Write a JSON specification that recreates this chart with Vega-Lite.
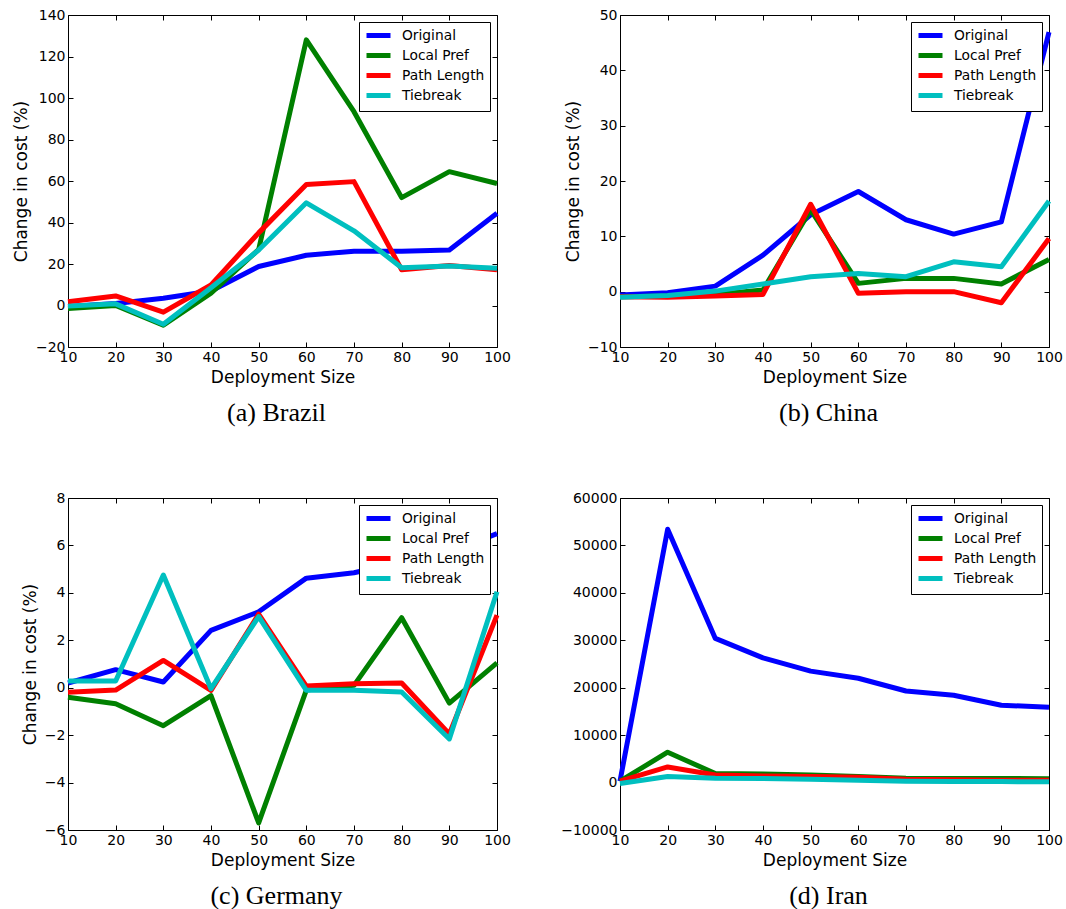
{
  "$schema": "https://vega.github.io/schema/vega-lite/v6.json",
  "padding": {"left": 11, "top": 7, "right": 5, "bottom": 5},
  "background": "white",
  "config": {
    "font": "DejaVu Sans",
    "view": {"stroke": "black", "strokeWidth": 1},
    "axis": {
      "domain": false,
      "grid": false,
      "ticks": true,
      "tickColor": "black",
      "tickSize": -5,
      "labelFont": "DejaVu Sans",
      "labelFontSize": 14,
      "labelColor": "black",
      "labelPadding": 8,
      "labelFlush": false,
      "labelOverlap": false,
      "titleFont": "DejaVu Sans",
      "titleFontSize": 17,
      "titleFontWeight": "normal",
      "titleColor": "black",
      "titlePadding": 5
    },
    "legend": {
      "orient": "top-right",
      "offset": 7,
      "title": null,
      "strokeColor": "black",
      "fillColor": "white",
      "padding": 5,
      "symbolType": "M-1,0H3",
      "symbolSize": 144,
      "symbolStrokeWidth": 5,
      "labelFont": "DejaVu Sans",
      "labelFontSize": 13.8,
      "labelColor": "black",
      "labelOffset": 21,
      "rowPadding": -1,
      "cornerRadius": 0
    },
    "title": {
      "orient": "bottom",
      "font": "Liberation Serif",
      "fontSize": 26,
      "fontWeight": "normal",
      "color": "black",
      "anchor": "middle",
      "dx": -6,
      "offset": 15
    }
  },
  "data": {
    "values": [
      {"country": "Brazil", "strategy": "Original", "size": 10, "value": -0.5},
      {"country": "Brazil", "strategy": "Original", "size": 20, "value": 1},
      {"country": "Brazil", "strategy": "Original", "size": 30, "value": 3.5},
      {"country": "Brazil", "strategy": "Original", "size": 40, "value": 7},
      {"country": "Brazil", "strategy": "Original", "size": 50, "value": 18.8},
      {"country": "Brazil", "strategy": "Original", "size": 60, "value": 24.2},
      {"country": "Brazil", "strategy": "Original", "size": 70, "value": 26.2},
      {"country": "Brazil", "strategy": "Original", "size": 80, "value": 26.2},
      {"country": "Brazil", "strategy": "Original", "size": 90, "value": 26.7},
      {"country": "Brazil", "strategy": "Original", "size": 100, "value": 44.5},
      {"country": "Brazil", "strategy": "Local Pref", "size": 10, "value": -1.5},
      {"country": "Brazil", "strategy": "Local Pref", "size": 20, "value": 0},
      {"country": "Brazil", "strategy": "Local Pref", "size": 30, "value": -9.5},
      {"country": "Brazil", "strategy": "Local Pref", "size": 40, "value": 5.9},
      {"country": "Brazil", "strategy": "Local Pref", "size": 50, "value": 27},
      {"country": "Brazil", "strategy": "Local Pref", "size": 60, "value": 128},
      {"country": "Brazil", "strategy": "Local Pref", "size": 70, "value": 93.4},
      {"country": "Brazil", "strategy": "Local Pref", "size": 80, "value": 52},
      {"country": "Brazil", "strategy": "Local Pref", "size": 90, "value": 64.5},
      {"country": "Brazil", "strategy": "Local Pref", "size": 100, "value": 58.8},
      {"country": "Brazil", "strategy": "Path Length", "size": 10, "value": 1.8},
      {"country": "Brazil", "strategy": "Path Length", "size": 20, "value": 4.6},
      {"country": "Brazil", "strategy": "Path Length", "size": 30, "value": -3.2},
      {"country": "Brazil", "strategy": "Path Length", "size": 40, "value": 9.9},
      {"country": "Brazil", "strategy": "Path Length", "size": 50, "value": 35},
      {"country": "Brazil", "strategy": "Path Length", "size": 60, "value": 58.3},
      {"country": "Brazil", "strategy": "Path Length", "size": 70, "value": 59.7},
      {"country": "Brazil", "strategy": "Path Length", "size": 80, "value": 17.2},
      {"country": "Brazil", "strategy": "Path Length", "size": 90, "value": 19.3},
      {"country": "Brazil", "strategy": "Path Length", "size": 100, "value": 17.2},
      {"country": "Brazil", "strategy": "Tiebreak", "size": 10, "value": -0.3},
      {"country": "Brazil", "strategy": "Tiebreak", "size": 20, "value": 0.8},
      {"country": "Brazil", "strategy": "Tiebreak", "size": 30, "value": -9},
      {"country": "Brazil", "strategy": "Tiebreak", "size": 40, "value": 8.6},
      {"country": "Brazil", "strategy": "Tiebreak", "size": 50, "value": 26.7},
      {"country": "Brazil", "strategy": "Tiebreak", "size": 60, "value": 49.5},
      {"country": "Brazil", "strategy": "Tiebreak", "size": 70, "value": 36},
      {"country": "Brazil", "strategy": "Tiebreak", "size": 80, "value": 18.2},
      {"country": "Brazil", "strategy": "Tiebreak", "size": 90, "value": 19},
      {"country": "Brazil", "strategy": "Tiebreak", "size": 100, "value": 18},

      {"country": "China", "strategy": "Original", "size": 10, "value": -0.6},
      {"country": "China", "strategy": "Original", "size": 20, "value": -0.2},
      {"country": "China", "strategy": "Original", "size": 30, "value": 1.0},
      {"country": "China", "strategy": "Original", "size": 40, "value": 6.6},
      {"country": "China", "strategy": "Original", "size": 50, "value": 13.9},
      {"country": "China", "strategy": "Original", "size": 60, "value": 18.1},
      {"country": "China", "strategy": "Original", "size": 70, "value": 13.0},
      {"country": "China", "strategy": "Original", "size": 80, "value": 10.4},
      {"country": "China", "strategy": "Original", "size": 90, "value": 12.6},
      {"country": "China", "strategy": "Original", "size": 100, "value": 46.9},
      {"country": "China", "strategy": "Local Pref", "size": 10, "value": -0.9},
      {"country": "China", "strategy": "Local Pref", "size": 20, "value": -0.8},
      {"country": "China", "strategy": "Local Pref", "size": 30, "value": -0.5},
      {"country": "China", "strategy": "Local Pref", "size": 40, "value": 0.3},
      {"country": "China", "strategy": "Local Pref", "size": 50, "value": 14.8},
      {"country": "China", "strategy": "Local Pref", "size": 60, "value": 1.5},
      {"country": "China", "strategy": "Local Pref", "size": 70, "value": 2.4},
      {"country": "China", "strategy": "Local Pref", "size": 80, "value": 2.4},
      {"country": "China", "strategy": "Local Pref", "size": 90, "value": 1.4},
      {"country": "China", "strategy": "Local Pref", "size": 100, "value": 5.8},
      {"country": "China", "strategy": "Path Length", "size": 10, "value": -0.9},
      {"country": "China", "strategy": "Path Length", "size": 20, "value": -1.0},
      {"country": "China", "strategy": "Path Length", "size": 30, "value": -0.8},
      {"country": "China", "strategy": "Path Length", "size": 40, "value": -0.5},
      {"country": "China", "strategy": "Path Length", "size": 50, "value": 15.8},
      {"country": "China", "strategy": "Path Length", "size": 60, "value": -0.3},
      {"country": "China", "strategy": "Path Length", "size": 70, "value": 0},
      {"country": "China", "strategy": "Path Length", "size": 80, "value": 0},
      {"country": "China", "strategy": "Path Length", "size": 90, "value": -2.0},
      {"country": "China", "strategy": "Path Length", "size": 100, "value": 9.6},
      {"country": "China", "strategy": "Tiebreak", "size": 10, "value": -1.0},
      {"country": "China", "strategy": "Tiebreak", "size": 20, "value": -0.7},
      {"country": "China", "strategy": "Tiebreak", "size": 30, "value": 0.1},
      {"country": "China", "strategy": "Tiebreak", "size": 40, "value": 1.4},
      {"country": "China", "strategy": "Tiebreak", "size": 50, "value": 2.7},
      {"country": "China", "strategy": "Tiebreak", "size": 60, "value": 3.3},
      {"country": "China", "strategy": "Tiebreak", "size": 70, "value": 2.7},
      {"country": "China", "strategy": "Tiebreak", "size": 80, "value": 5.4},
      {"country": "China", "strategy": "Tiebreak", "size": 90, "value": 4.5},
      {"country": "China", "strategy": "Tiebreak", "size": 100, "value": 16.4},

      {"country": "Germany", "strategy": "Original", "size": 10, "value": 0.2},
      {"country": "Germany", "strategy": "Original", "size": 20, "value": 0.76},
      {"country": "Germany", "strategy": "Original", "size": 30, "value": 0.24},
      {"country": "Germany", "strategy": "Original", "size": 40, "value": 2.42},
      {"country": "Germany", "strategy": "Original", "size": 50, "value": 3.2},
      {"country": "Germany", "strategy": "Original", "size": 60, "value": 4.62},
      {"country": "Germany", "strategy": "Original", "size": 70, "value": 4.85},
      {"country": "Germany", "strategy": "Original", "size": 80, "value": 5.3},
      {"country": "Germany", "strategy": "Original", "size": 90, "value": 5.7},
      {"country": "Germany", "strategy": "Original", "size": 100, "value": 6.5},
      {"country": "Germany", "strategy": "Local Pref", "size": 10, "value": -0.4},
      {"country": "Germany", "strategy": "Local Pref", "size": 20, "value": -0.68},
      {"country": "Germany", "strategy": "Local Pref", "size": 30, "value": -1.6},
      {"country": "Germany", "strategy": "Local Pref", "size": 40, "value": -0.33},
      {"country": "Germany", "strategy": "Local Pref", "size": 50, "value": -5.7},
      {"country": "Germany", "strategy": "Local Pref", "size": 60, "value": -0.1},
      {"country": "Germany", "strategy": "Local Pref", "size": 70, "value": 0.1},
      {"country": "Germany", "strategy": "Local Pref", "size": 80, "value": 2.95},
      {"country": "Germany", "strategy": "Local Pref", "size": 90, "value": -0.65},
      {"country": "Germany", "strategy": "Local Pref", "size": 100, "value": 1.05},
      {"country": "Germany", "strategy": "Path Length", "size": 10, "value": -0.19},
      {"country": "Germany", "strategy": "Path Length", "size": 20, "value": -0.1},
      {"country": "Germany", "strategy": "Path Length", "size": 30, "value": 1.15},
      {"country": "Germany", "strategy": "Path Length", "size": 40, "value": -0.11},
      {"country": "Germany", "strategy": "Path Length", "size": 50, "value": 3.1},
      {"country": "Germany", "strategy": "Path Length", "size": 60, "value": 0.07},
      {"country": "Germany", "strategy": "Path Length", "size": 70, "value": 0.17},
      {"country": "Germany", "strategy": "Path Length", "size": 80, "value": 0.2},
      {"country": "Germany", "strategy": "Path Length", "size": 90, "value": -1.95},
      {"country": "Germany", "strategy": "Path Length", "size": 100, "value": 3.06},
      {"country": "Germany", "strategy": "Tiebreak", "size": 10, "value": 0.28},
      {"country": "Germany", "strategy": "Tiebreak", "size": 20, "value": 0.28},
      {"country": "Germany", "strategy": "Tiebreak", "size": 30, "value": 4.75},
      {"country": "Germany", "strategy": "Tiebreak", "size": 40, "value": -0.04},
      {"country": "Germany", "strategy": "Tiebreak", "size": 50, "value": 3.0},
      {"country": "Germany", "strategy": "Tiebreak", "size": 60, "value": -0.11},
      {"country": "Germany", "strategy": "Tiebreak", "size": 70, "value": -0.11},
      {"country": "Germany", "strategy": "Tiebreak", "size": 80, "value": -0.18},
      {"country": "Germany", "strategy": "Tiebreak", "size": 90, "value": -2.16},
      {"country": "Germany", "strategy": "Tiebreak", "size": 100, "value": 4.05},

      {"country": "Iran", "strategy": "Original", "size": 10, "value": 300},
      {"country": "Iran", "strategy": "Original", "size": 20, "value": 53400},
      {"country": "Iran", "strategy": "Original", "size": 30, "value": 30400},
      {"country": "Iran", "strategy": "Original", "size": 40, "value": 26300},
      {"country": "Iran", "strategy": "Original", "size": 50, "value": 23500},
      {"country": "Iran", "strategy": "Original", "size": 60, "value": 22000},
      {"country": "Iran", "strategy": "Original", "size": 70, "value": 19300},
      {"country": "Iran", "strategy": "Original", "size": 80, "value": 18400},
      {"country": "Iran", "strategy": "Original", "size": 90, "value": 16300},
      {"country": "Iran", "strategy": "Original", "size": 100, "value": 15900},
      {"country": "Iran", "strategy": "Local Pref", "size": 10, "value": 300},
      {"country": "Iran", "strategy": "Local Pref", "size": 20, "value": 6400},
      {"country": "Iran", "strategy": "Local Pref", "size": 30, "value": 1900},
      {"country": "Iran", "strategy": "Local Pref", "size": 40, "value": 1800},
      {"country": "Iran", "strategy": "Local Pref", "size": 50, "value": 1600},
      {"country": "Iran", "strategy": "Local Pref", "size": 60, "value": 1300},
      {"country": "Iran", "strategy": "Local Pref", "size": 70, "value": 900},
      {"country": "Iran", "strategy": "Local Pref", "size": 80, "value": 850},
      {"country": "Iran", "strategy": "Local Pref", "size": 90, "value": 850},
      {"country": "Iran", "strategy": "Local Pref", "size": 100, "value": 800},
      {"country": "Iran", "strategy": "Path Length", "size": 10, "value": 300},
      {"country": "Iran", "strategy": "Path Length", "size": 20, "value": 3300},
      {"country": "Iran", "strategy": "Path Length", "size": 30, "value": 1600},
      {"country": "Iran", "strategy": "Path Length", "size": 40, "value": 1400},
      {"country": "Iran", "strategy": "Path Length", "size": 50, "value": 1300},
      {"country": "Iran", "strategy": "Path Length", "size": 60, "value": 1100},
      {"country": "Iran", "strategy": "Path Length", "size": 70, "value": 700},
      {"country": "Iran", "strategy": "Path Length", "size": 80, "value": 600},
      {"country": "Iran", "strategy": "Path Length", "size": 90, "value": 500},
      {"country": "Iran", "strategy": "Path Length", "size": 100, "value": 500},
      {"country": "Iran", "strategy": "Tiebreak", "size": 10, "value": -200},
      {"country": "Iran", "strategy": "Tiebreak", "size": 20, "value": 1300},
      {"country": "Iran", "strategy": "Tiebreak", "size": 30, "value": 900},
      {"country": "Iran", "strategy": "Tiebreak", "size": 40, "value": 850},
      {"country": "Iran", "strategy": "Tiebreak", "size": 50, "value": 700},
      {"country": "Iran", "strategy": "Tiebreak", "size": 60, "value": 500},
      {"country": "Iran", "strategy": "Tiebreak", "size": 70, "value": 300},
      {"country": "Iran", "strategy": "Tiebreak", "size": 80, "value": 200},
      {"country": "Iran", "strategy": "Tiebreak", "size": 90, "value": 200},
      {"country": "Iran", "strategy": "Tiebreak", "size": 100, "value": 150}
    ]
  },
  "columns": 2,
  "spacing": {"column": 123, "row": 151},
  "bounds": "flush",
  "resolve": {
    "scale": {"color": "independent", "x": "independent", "y": "independent"},
    "legend": {"color": "independent"}
  },
  "concat": [
    {
      "title": {"text": "(a) Brazil"},
      "width": 429,
      "height": 332,
      "transform": [{"filter": "datum.country === 'Brazil'"}],
      "resolve": {"axis": {"x": "independent", "y": "independent"}},
      "layer": [
        {
          "mark": {"type": "line", "strokeWidth": 5, "strokeJoin": "round"},
          "encoding": {
            "x": {"field": "size", "type": "quantitative", "scale": {"domain": [10, 100], "nice": false, "zero": false},
                  "axis": {"orient": "bottom", "title": "Deployment Size", "values": [10, 20, 30, 40, 50, 60, 70, 80, 90, 100]}},
            "y": {"field": "value", "type": "quantitative", "scale": {"domain": [-20, 140], "nice": false, "zero": false},
                  "axis": {"orient": "left", "title": "Change in cost (%)", "values": [-20, 0, 20, 40, 60, 80, 100, 120, 140]}},
            "color": {"field": "strategy", "type": "nominal", "sort": null,
                      "scale": {"domain": ["Original", "Local Pref", "Path Length", "Tiebreak"], "range": ["#0000ff", "#008000", "#ff0000", "#00bfbf"]}}
          }
        },
        {
          "mark": {"type": "line", "strokeOpacity": 0},
          "encoding": {
            "x": {"field": "size", "type": "quantitative", "axis": {"orient": "top", "labels": false, "title": null, "values": [10, 20, 30, 40, 50, 60, 70, 80, 90, 100]}},
            "y": {"field": "value", "type": "quantitative", "axis": {"orient": "right", "labels": false, "title": null, "values": [-20, 0, 20, 40, 60, 80, 100, 120, 140]}},
            "detail": {"field": "strategy"}
          }
        }
      ]
    },
    {
      "title": {"text": "(b) China"},
      "width": 429,
      "height": 332,
      "transform": [{"filter": "datum.country === 'China'"}],
      "resolve": {"axis": {"x": "independent", "y": "independent"}},
      "layer": [
        {
          "mark": {"type": "line", "strokeWidth": 5, "strokeJoin": "round"},
          "encoding": {
            "x": {"field": "size", "type": "quantitative", "scale": {"domain": [10, 100], "nice": false, "zero": false},
                  "axis": {"orient": "bottom", "title": "Deployment Size", "values": [10, 20, 30, 40, 50, 60, 70, 80, 90, 100]}},
            "y": {"field": "value", "type": "quantitative", "scale": {"domain": [-10, 50], "nice": false, "zero": false},
                  "axis": {"orient": "left", "title": "Change in cost (%)", "values": [-10, 0, 10, 20, 30, 40, 50]}},
            "color": {"field": "strategy", "type": "nominal", "sort": null,
                      "scale": {"domain": ["Original", "Local Pref", "Path Length", "Tiebreak"], "range": ["#0000ff", "#008000", "#ff0000", "#00bfbf"]}}
          }
        },
        {
          "mark": {"type": "line", "strokeOpacity": 0},
          "encoding": {
            "x": {"field": "size", "type": "quantitative", "axis": {"orient": "top", "labels": false, "title": null, "values": [10, 20, 30, 40, 50, 60, 70, 80, 90, 100]}},
            "y": {"field": "value", "type": "quantitative", "axis": {"orient": "right", "labels": false, "title": null, "values": [-10, 0, 10, 20, 30, 40, 50]}},
            "detail": {"field": "strategy"}
          }
        }
      ]
    },
    {
      "title": {"text": "(c) Germany"},
      "width": 429,
      "height": 332,
      "transform": [{"filter": "datum.country === 'Germany'"}],
      "resolve": {"axis": {"x": "independent", "y": "independent"}},
      "layer": [
        {
          "mark": {"type": "line", "strokeWidth": 5, "strokeJoin": "round"},
          "encoding": {
            "x": {"field": "size", "type": "quantitative", "scale": {"domain": [10, 100], "nice": false, "zero": false},
                  "axis": {"orient": "bottom", "title": "Deployment Size", "values": [10, 20, 30, 40, 50, 60, 70, 80, 90, 100]}},
            "y": {"field": "value", "type": "quantitative", "scale": {"domain": [-6, 8], "nice": false, "zero": false},
                  "axis": {"orient": "left", "title": "Change in cost (%)", "values": [-6, -4, -2, 0, 2, 4, 6, 8]}},
            "color": {"field": "strategy", "type": "nominal", "sort": null,
                      "scale": {"domain": ["Original", "Local Pref", "Path Length", "Tiebreak"], "range": ["#0000ff", "#008000", "#ff0000", "#00bfbf"]}}
          }
        },
        {
          "mark": {"type": "line", "strokeOpacity": 0},
          "encoding": {
            "x": {"field": "size", "type": "quantitative", "axis": {"orient": "top", "labels": false, "title": null, "values": [10, 20, 30, 40, 50, 60, 70, 80, 90, 100]}},
            "y": {"field": "value", "type": "quantitative", "axis": {"orient": "right", "labels": false, "title": null, "values": [-6, -4, -2, 0, 2, 4, 6, 8]}},
            "detail": {"field": "strategy"}
          }
        }
      ]
    },
    {
      "title": {"text": "(d) Iran"},
      "width": 429,
      "height": 332,
      "transform": [{"filter": "datum.country === 'Iran'"}],
      "resolve": {"axis": {"x": "independent", "y": "independent"}},
      "layer": [
        {
          "mark": {"type": "line", "strokeWidth": 5, "strokeJoin": "round"},
          "encoding": {
            "x": {"field": "size", "type": "quantitative", "scale": {"domain": [10, 100], "nice": false, "zero": false},
                  "axis": {"orient": "bottom", "title": "Deployment Size", "values": [10, 20, 30, 40, 50, 60, 70, 80, 90, 100]}},
            "y": {"field": "value", "type": "quantitative", "scale": {"domain": [-10000, 60000], "nice": false, "zero": false},
                  "axis": {"orient": "left", "title": null, "format": "d", "values": [-10000, 0, 10000, 20000, 30000, 40000, 50000, 60000]}},
            "color": {"field": "strategy", "type": "nominal", "sort": null,
                      "scale": {"domain": ["Original", "Local Pref", "Path Length", "Tiebreak"], "range": ["#0000ff", "#008000", "#ff0000", "#00bfbf"]}}
          }
        },
        {
          "mark": {"type": "line", "strokeOpacity": 0},
          "encoding": {
            "x": {"field": "size", "type": "quantitative", "axis": {"orient": "top", "labels": false, "title": null, "values": [10, 20, 30, 40, 50, 60, 70, 80, 90, 100]}},
            "y": {"field": "value", "type": "quantitative", "axis": {"orient": "right", "labels": false, "title": null, "values": [-10000, 0, 10000, 20000, 30000, 40000, 50000, 60000]}},
            "detail": {"field": "strategy"}
          }
        }
      ]
    }
  ]
}
